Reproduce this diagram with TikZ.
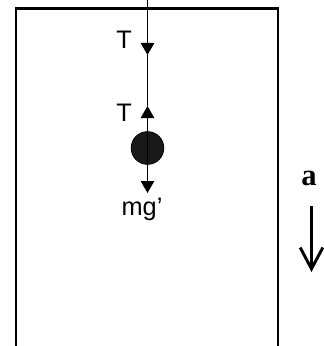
\documentclass[tikz,border=0pt]{standalone}
\usepackage{fontspec}
\setmainfont{Liberation Serif}
\setsansfont{Liberation Sans}
\usetikzlibrary{arrows.meta}
\begin{document}
\begin{tikzpicture}[x=0.75pt,y=-0.75pt,
  wall/.style={line width=1.8pt,line cap=rect},
  rope/.style={line width=1.2pt},
  force/.style={rope,-{Triangle[length=9pt,width=10pt]}},
  lbl/.style={font=\sffamily\fontsize{19}{22}\selectfont,inner sep=0pt},
  bob/.style={circle,fill=black!90,draw=black,line width=0.6pt,minimum size=24.5pt,inner sep=0pt},
  accel/.style={line width=2.2pt,-{Straight Barb[length=16pt,width=17pt,line width=2.2pt]}}]
\useasboundingbox (0,0) rectangle (324,346);
% walls of the lift
\coordinate (wbl) at (16,346);
\coordinate (wtl) at (16,8.5);
\coordinate (wtr) at (278,8.5);
\coordinate (wbr) at (278,346);
\draw[wall] (wbl) -- (wtl) -- (wtr) -- (wbr);
% bob and string
\node[bob] (ball) at (147.5,148) {};
\coordinate (top) at (147.5,0);
\coordinate (t1) at (147.5,55);
\coordinate (t2) at (147.5,106);
\coordinate (g1) at (147.5,193);
\draw[force] (top) -- (t1);
\draw[rope] (t1) -- (t2);
\draw[force] (ball.north) -- (t2);
\draw[rope, draw=black] (ball.north) -- (ball.south);
\draw[force] (ball.south) -- (g1);
% labels
\node[lbl] (T1) at (124,40) {T};
\node[lbl] (T2) at (124,113) {T};
\node[lbl,anchor=base] (mg) at (142,215) {mg’};
% acceleration
\node[font=\bfseries\fontsize{23}{26}\selectfont,inner sep=0pt,anchor=base] (a) at (309,185) {a};
\coordinate (a1) at (311.5,206);
\coordinate (a2) at (311.5,272);
\draw[accel] (a1) -- (a2);
\end{tikzpicture}
\end{document}
